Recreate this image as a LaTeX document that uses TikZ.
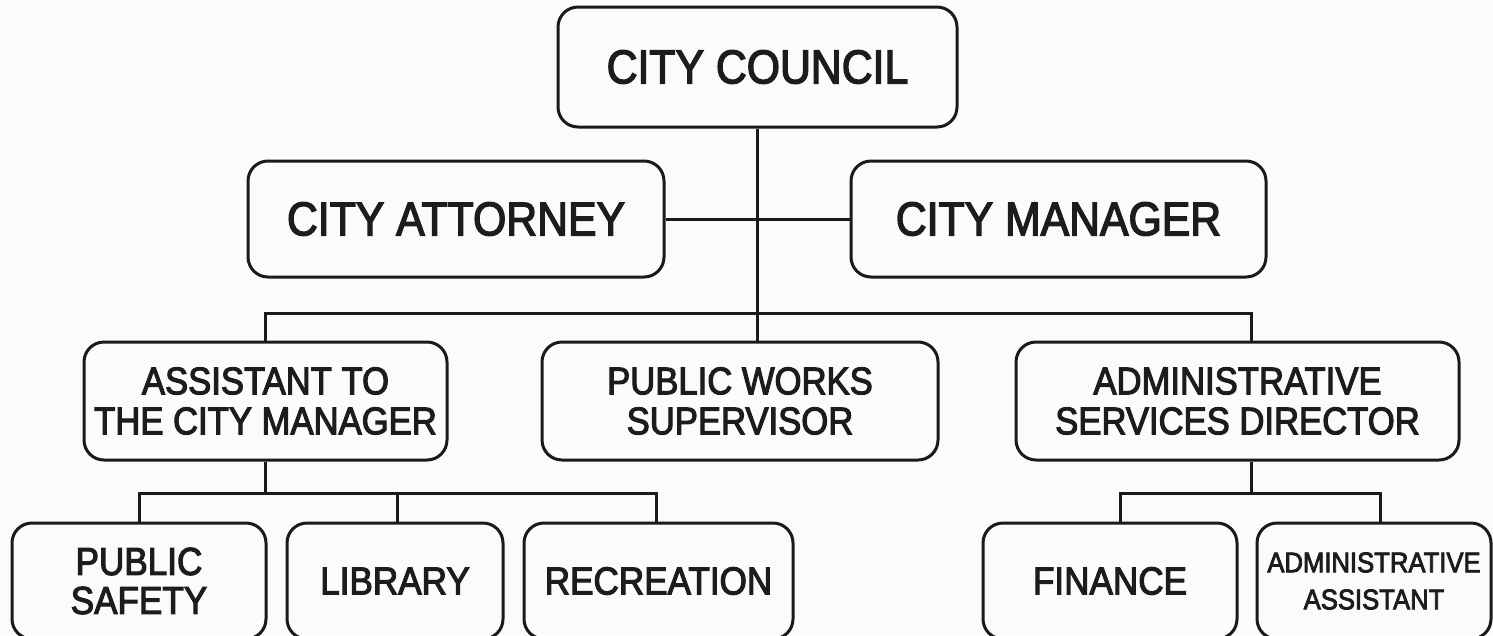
\documentclass[tikz,border=0pt]{standalone}
\usepackage{fontspec}
\setmainfont{Liberation Sans}[FakeStretch=0.9,FakeBold=2.8]
\definecolor{linec}{HTML}{1A1A1A}
\definecolor{textc}{HTML}{1C1C1C}
\definecolor{bgc}{HTML}{FBFBFB}
\begin{document}
\begin{tikzpicture}[x=1pt,y=-1pt,
  box/.style={draw=linec, line width=3pt, rounded corners=20pt, align=center,
    text=textc, inner sep=0pt, anchor=center},
  bigtxt/.style={font=\fontsize{47.5}{54}\selectfont},
  midtxt/.style={font=\fontsize{38.5}{40}\selectfont},
  lowtxt/.style={font=\fontsize{39}{39}\selectfont},
  smalltxt/.style={font=\fontsize{28.5}{37}\selectfont},
  conn/.style={draw=linec, line width=3pt}]
\fill[bgc] (0,0) rectangle (1493,635);
\useasboundingbox (0,0) rectangle (1493,635);
% top
\node[box,bigtxt,minimum width=399pt,minimum height=120pt] (council) at (757.5,67) {CITY COUNCIL};
\node[box,bigtxt,minimum width=416pt,minimum height=116pt] (attorney) at (456,219) {CITY ATTORNEY};
\node[box,bigtxt,minimum width=415pt,minimum height=116pt] (manager) at (1058.5,219) {CITY MANAGER};
% middle
\node[box,midtxt,minimum width=363pt,minimum height=118pt] (assistant) at (265.5,401) {ASSISTANT TO\\THE CITY MANAGER};
\node[box,midtxt,minimum width=396pt,minimum height=118pt] (works) at (740,401) {PUBLIC WORKS\\SUPERVISOR};
\node[box,midtxt,minimum width=443pt,minimum height=118pt] (services) at (1237.5,401) {ADMINISTRATIVE\\SERVICES DIRECTOR};
% bottom
\node[box,lowtxt,minimum width=254pt,minimum height=116pt] (safety) at (139,581) {PUBLIC\\SAFETY};
\node[box,lowtxt,minimum width=216pt,minimum height=116pt] (library) at (395,581) {LIBRARY};
\node[box,lowtxt,minimum width=269pt,minimum height=116pt] (recreation) at (658.5,581) {RECREATION};
\node[box,lowtxt,minimum width=254pt,minimum height=116pt] (finance) at (1110,581) {FINANCE};
\node[box,smalltxt,minimum width=234pt,minimum height=116pt] (adminasst) at (1374,581) {ADMINISTRATIVE\\ASSISTANT};
% bus coordinates
\coordinate (busA) at (757,313);
\coordinate (busB) at (265,493);
\coordinate (busC) at (1251,493);
\coordinate (dropWorks) at (757,342);
\coordinate (dropServ) at (1251,342);
\coordinate (dropFin) at (1120,523);
\coordinate (dropAA) at (1380,523);
\coordinate (dropLib) at (397,523);
\coordinate (dropRec) at (656,523);
% connectors
\draw[conn] (council.south -| busA) -- (busA);
\draw[conn] (attorney.east) -- (manager.west);
\draw[conn] (assistant.north) -- (assistant.north |- busA) -- (busA -| dropServ) -- (dropServ);
\draw[conn] (busA) -- (dropWorks);
\draw[conn] (assistant.south -| busB) -- (busB);
\draw[conn] (safety.north) -- (safety.north |- busB) -- (busB -| dropRec) -- (dropRec);
\draw[conn] (busB -| dropLib) -- (dropLib);
\draw[conn] (services.south -| busC) -- (busC);
\draw[conn] (dropFin) -- (dropFin |- busC) -- (busC -| dropAA) -- (dropAA);
\end{tikzpicture}
\end{document}
